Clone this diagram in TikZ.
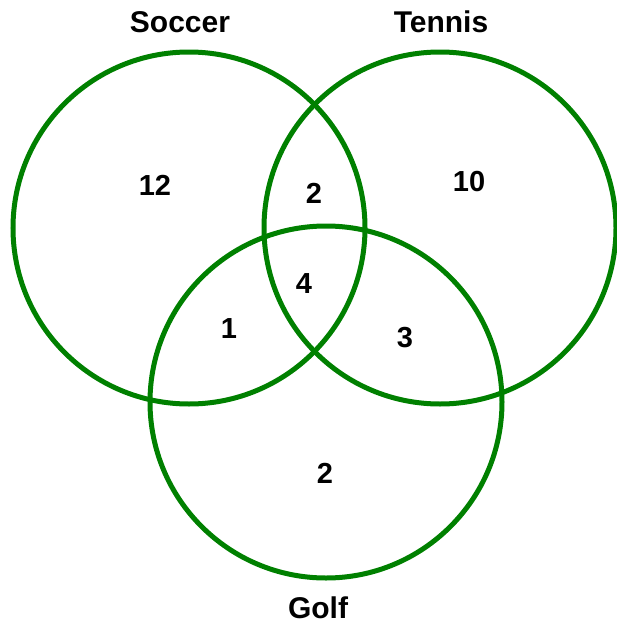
\documentclass[tikz,border=0pt]{standalone}
\usepackage{fontspec}
\setmainfont{Liberation Sans}
\usetikzlibrary{positioning}
\definecolor{venngreen}{RGB}{0,128,0}

\begin{document}
\begin{tikzpicture}[x=1pt,y=-1pt,
    set/.style={draw=venngreen,line width=5pt,circle,minimum size=352pt,inner sep=0pt},
    lbl/.style={font=\fontsize{30}{36}\selectfont\bfseries},
    num/.style={font=\fontsize{29}{35}\selectfont\bfseries}]
    \useasboundingbox (0,0) rectangle (617,624);
    % the three sets
    \node[set] (soccer) at (189,228) {};
    \node[set] (tennis) at (440,228) {};
    \node[set] (golf) at (326,402) {};
    % set names
    \node[lbl] (soccerlbl) at (180,22) {Soccer};
    \node[lbl] (tennislbl) at (441,22) {Tennis};
    \node[lbl] (golflbl) at (318,608) {Golf};
    % counts
    \node[num] (s) at (155,185) {12};
    \node[num] (st) at (314,193) {2};
    \node[num] (t) at (469,182) {10};
    \node[num] (stg) at (304,284) {4};
    \node[num] (sg) at (229,329) {1};
    \node[num] (tg) at (405,338) {3};
    \node[num] (g) at (325,473) {2};
  \end{tikzpicture}
\end{document}
